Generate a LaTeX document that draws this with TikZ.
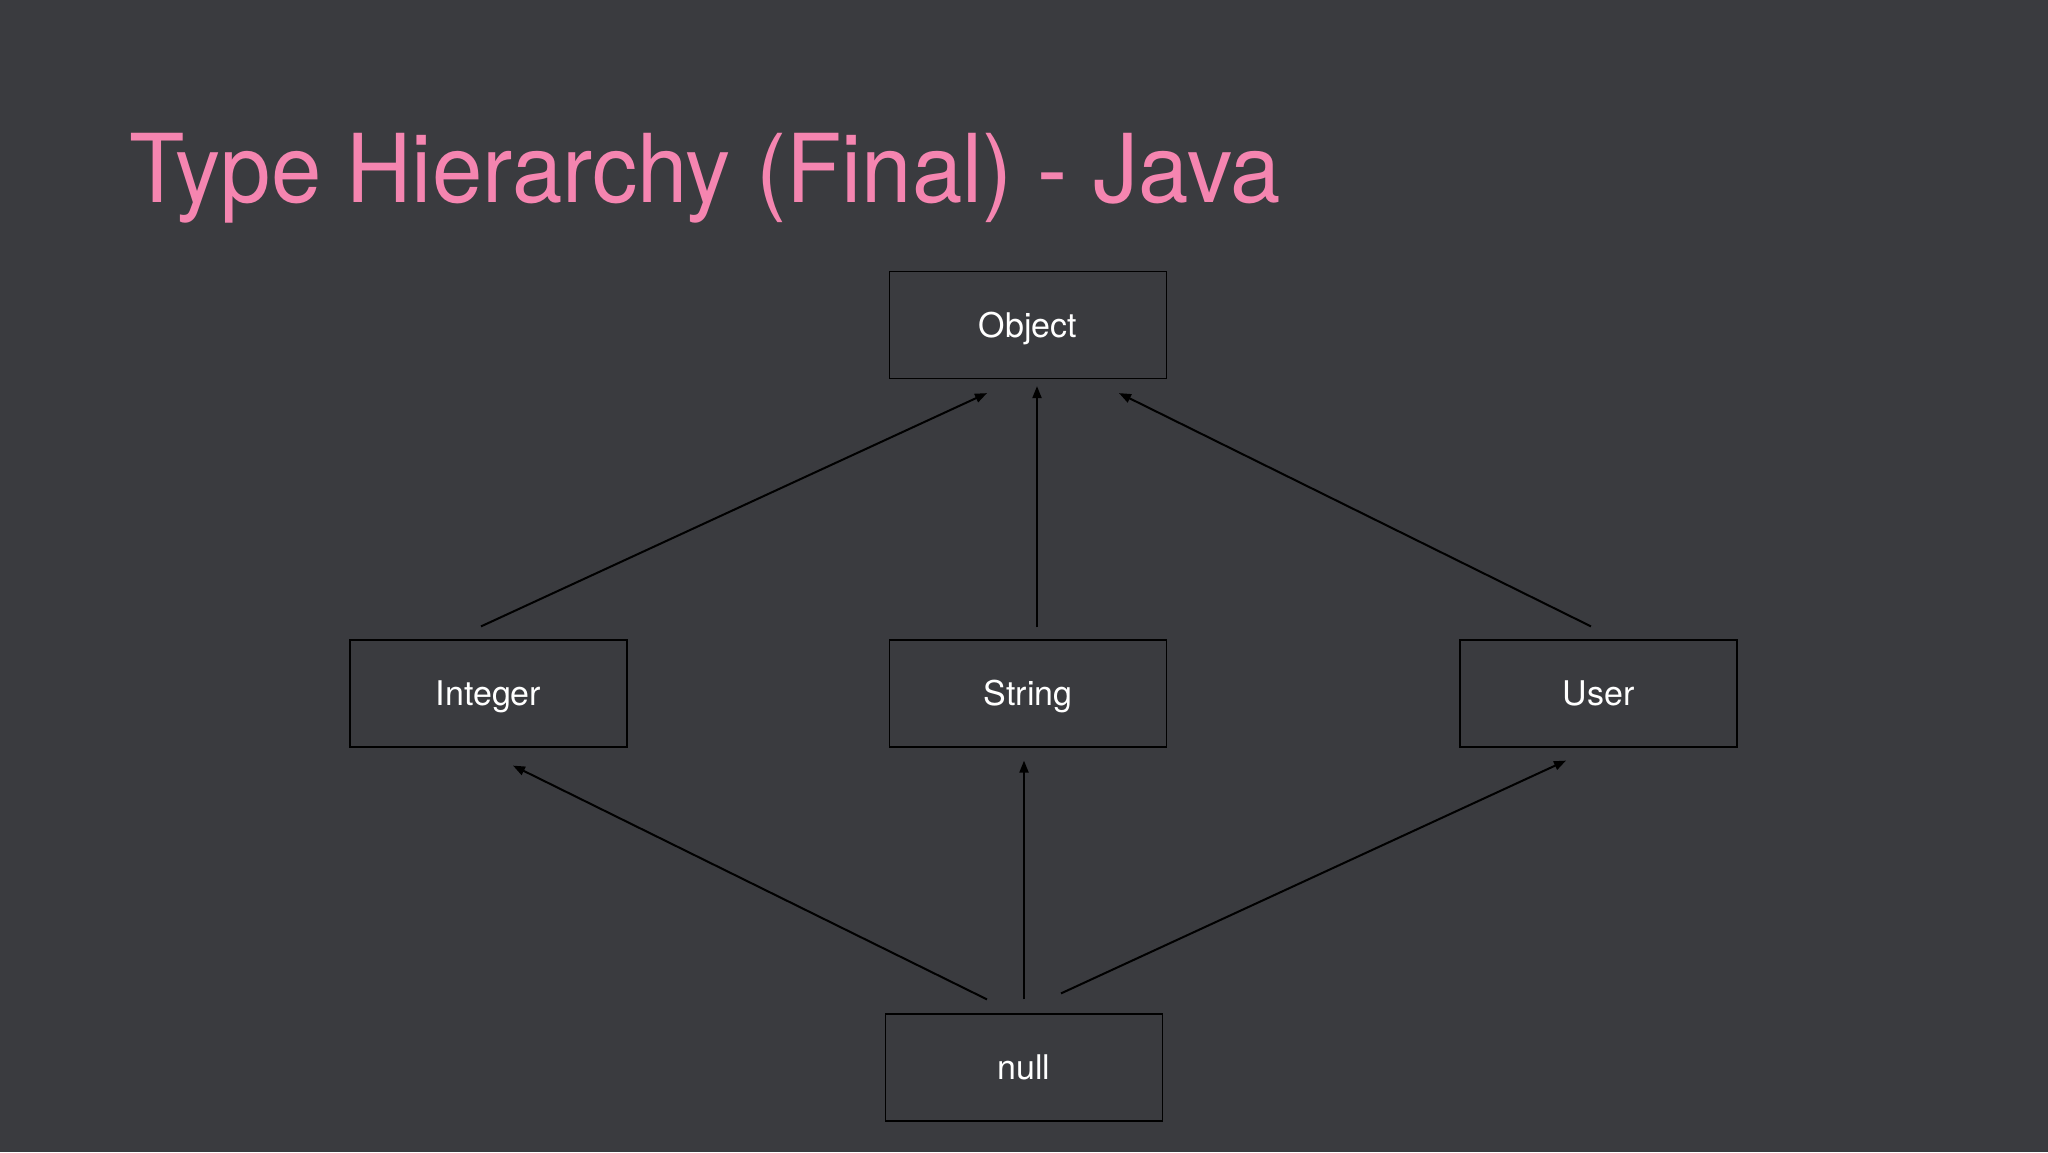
\documentclass[tikz,border=0pt]{standalone}
\usepackage{fontspec}
\setmainfont{TeX Gyre Heros}
\usetikzlibrary{arrows.meta}
\definecolor{bgcol}{HTML}{3A3B3F}
\definecolor{titlecol}{HTML}{F585B0}
\tikzset{
  typebox/.style={draw=black, line width=1.2pt, minimum width=277pt, minimum height=107pt, inner sep=0pt, text height=24.5pt, text depth=0pt, text=white, font=\fontsize{34}{40}\selectfont},
  arr/.style={draw=black, line width=2pt, -{Triangle[length=12pt,width=9pt]}}
}
\begin{document}
\begin{tikzpicture}[x=1pt,y=-1pt]
\fill[bgcol] (0,0) rectangle (2048,1152);
\useasboundingbox (0,0) rectangle (2048,1152);
\node[anchor=base west, inner sep=0pt, text=titlecol, font=\fontsize{95}{105}\selectfont, xscale=0.953, transform shape] (title) at (129,202) {Type Hierarchy (Final) - Java};
\node[typebox] (object) at (1028,325) {Object};
\node[typebox] (integer) at (488.5,693.5) {Integer};
\node[typebox] (string) at (1028,693.5) {String};
\node[typebox] (user) at (1598.5,693.5) {User};
\node[typebox] (null) at (1024,1067.5) {null};
\draw[arr] ([xshift=-7.5pt,yshift=13pt]integer.north) -- ([xshift=-41pt,yshift=-14pt]object.south);
\draw[arr] ([xshift=9pt,yshift=12pt]string.north) -- ([xshift=9pt,yshift=-7pt]object.south);
\draw[arr] ([xshift=-7.5pt,yshift=13pt]user.north) -- ([xshift=91pt,yshift=-14pt]object.south);
\draw[arr] ([xshift=-37pt,yshift=14pt]null.north) -- ([xshift=24.5pt,yshift=-18pt]integer.south);
\draw[arr] ([xshift=0pt,yshift=14pt]null.north) -- ([xshift=-4pt,yshift=-13pt]string.south);
\draw[arr] ([xshift=37pt,yshift=20pt]null.north) -- ([xshift=-32.5pt,yshift=-13pt]user.south);
\end{tikzpicture}
\end{document}
